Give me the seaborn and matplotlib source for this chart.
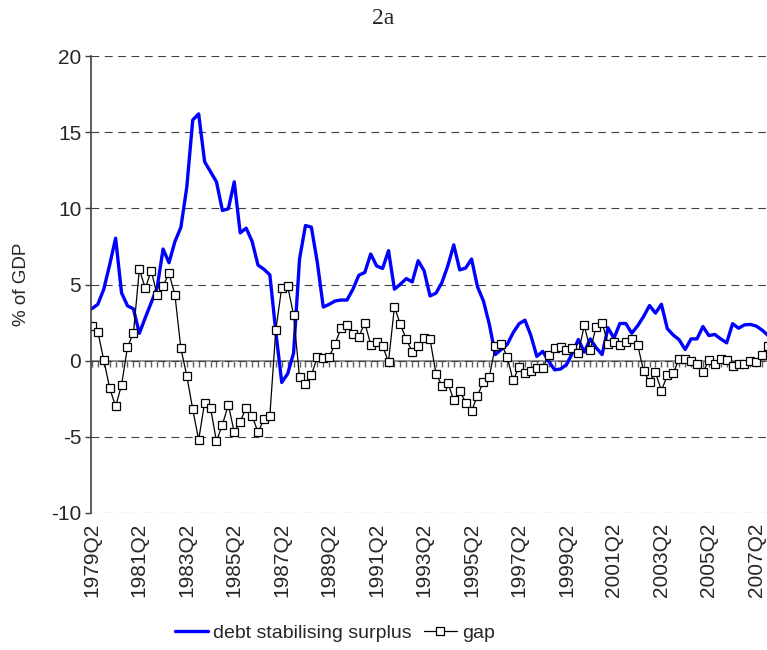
import matplotlib
matplotlib.use("Agg")
import matplotlib.pyplot as plt
import pandas as pd
import seaborn as sns

# quarterly observations 1979Q2 .. 2007Q4
quarters = [f"{y}Q{q}" for y in range(1979, 2008) for q in range(1, 5)][1:]

surplus = [3.41, 3.7, 4.69, 6.3, 8.04, 4.45, 3.6, 3.4, 1.8, 2.82,
           3.81, 4.8, 7.33, 6.43, 7.82, 8.75, 11.4, 15.8, 16.2, 13.06,
           12.4, 11.74, 9.86, 9.97, 11.74, 8.39, 8.7, 7.84, 6.27, 6.0,
           5.63, 1.9, -1.43, -0.86, 0.5, 6.67, 8.87, 8.76, 6.45, 3.52,
           3.7, 3.92, 3.98, 3.98, 4.69, 5.61, 5.79, 7.0, 6.22, 6.05,
           7.22, 4.69, 5.02, 5.39, 5.17, 6.56, 5.9, 4.25, 4.43, 5.13,
           6.23, 7.6, 5.96, 6.08, 6.67, 4.85, 3.92, 2.38, 0.4, 0.73,
           1.06, 1.83, 2.42, 2.66, 1.65, 0.28, 0.61, -0.04, -0.6, -0.55,
           -0.26, 0.5, 1.39, 0.56, 1.43, 0.85, 0.4, 2.16, 1.47, 2.44,
           2.44, 1.8, 2.29, 2.9, 3.62, 3.12, 3.7, 2.1, 1.68, 1.37,
           0.73, 1.43, 1.43, 2.24, 1.65, 1.72, 1.43, 1.17, 2.43, 2.13,
           2.35, 2.38, 2.27, 2.0, 1.65]

gap = [2.3, 1.9, 0.05, -1.8, -3.0, -1.6, 0.9, 1.8, 6.0, 4.75,
       5.9, 4.3, 4.9, 5.75, 4.3, 0.8, -1.0, -3.2, -5.2, -2.75,
       -3.1, -5.3, -4.2, -2.9, -4.7, -4.0, -3.1, -3.6, -4.7, -3.85,
       -3.6, 2.0, 4.8, 4.9, 3.0, -1.1, -1.5, -0.95, 0.24, 0.15,
       0.24, 1.12, 2.13, 2.31, 1.76, 1.56, 2.49, 1.06, 1.2, 0.95,
       -0.07, 3.54, 2.38, 1.4, 0.58, 0.95, 1.5, 1.4, -0.85, -1.64,
       -1.47, -2.58, -1.96, -2.75, -3.3, -2.29, -1.4, -1.04, 0.95, 1.12,
       0.26, -1.3, -0.41, -0.83, -0.66, -0.47, -0.47, 0.34, 0.8, 0.88,
       0.7, 0.86, 0.52, 2.31, 0.73, 2.2, 2.49, 1.12, 1.21, 1.04,
       1.21, 1.39, 1.04, -0.68, -1.41, -0.77, -1.96, -0.97, -0.82, 0.13,
       0.13, -0.04, -0.24, -0.77, 0.04, -0.21, 0.14, 0.02, -0.32, -0.21,
       -0.21, -0.04, -0.12, 0.4, 0.95]

df = pd.DataFrame({"t": range(len(quarters)), "quarter": quarters,
                   "surplus": surplus, "gap": gap})

sns.set_style("white")
plt.rcParams["font.family"] = ["Liberation Sans", "DejaVu Sans"]
plt.rcParams["axes.unicode_minus"] = False

fig = plt.figure(figsize=(7.67, 6.5), dpi=100)
ax = fig.add_axes([91 / 767, 137 / 650, 676 / 767, 457 / 650])

sns.lineplot(data=df, x="t", y="surplus", ax=ax, color="#0000FF", linewidth=2.4,
             label="debt stabilising surplus", legend=False)
sns.lineplot(data=df, x="t", y="gap", ax=ax, color="black", linewidth=0.9,
             marker="s", markersize=5.5, markerfacecolor="white",
             markeredgecolor="black", markeredgewidth=0.9,
             label="gap", legend=False)

ax.set_xlim(-0.15, 113.8)
ax.set_ylim(-10, 20)
ax.set_yticks(range(-10, 21, 5))
ax.set_xticks(range(0, len(quarters), 8))
ax.set_xticklabels(quarters[::8], rotation=90)
ax.set_xlabel("")
ax.set_ylabel("% of GDP", fontsize=13.5)
ax.yaxis.set_label_coords(-0.09, 0.5)

ax.tick_params(axis="x", length=0, pad=7, labelsize=15)
ax.tick_params(axis="y", length=4, width=1, color="#404040", labelsize=15, pad=3, left=True)
for s in ["top", "right", "bottom"]:
    ax.spines[s].set_visible(False)
ax.spines["left"].set_color("#404040")
ax.spines["left"].set_linewidth(1.2)

ax.yaxis.grid(True, color="#404040", linewidth=0.8, linestyle=(0, (7, 5)))
ax.xaxis.grid(False)

# zero axis with a tick for every quarter
zero = ax.secondary_xaxis(1 / 3)
zero.set_xticks(range(len(quarters)))
zero.tick_params(axis="x", length=4.5, width=1, color="#606060", direction="out",
                 labelbottom=False, labeltop=False)
for s in zero.spines.values():
    s.set_color("#808080")
    s.set_linewidth(1.2)

fig.text(383 / 767, 1 - 18 / 650, "2a", ha="center", va="center",
         family=["Liberation Serif"], fontsize=17)

handles, labels = ax.get_legend_handles_labels()
fig.legend(handles, labels, loc="center", bbox_to_anchor=(335 / 767, 1 - 633 / 650),
           ncol=2, frameon=False, fontsize=14, handlelength=1.7,
           columnspacing=0.6, handletextpad=0.3)

fig.savefig("out.png", dpi=100)
